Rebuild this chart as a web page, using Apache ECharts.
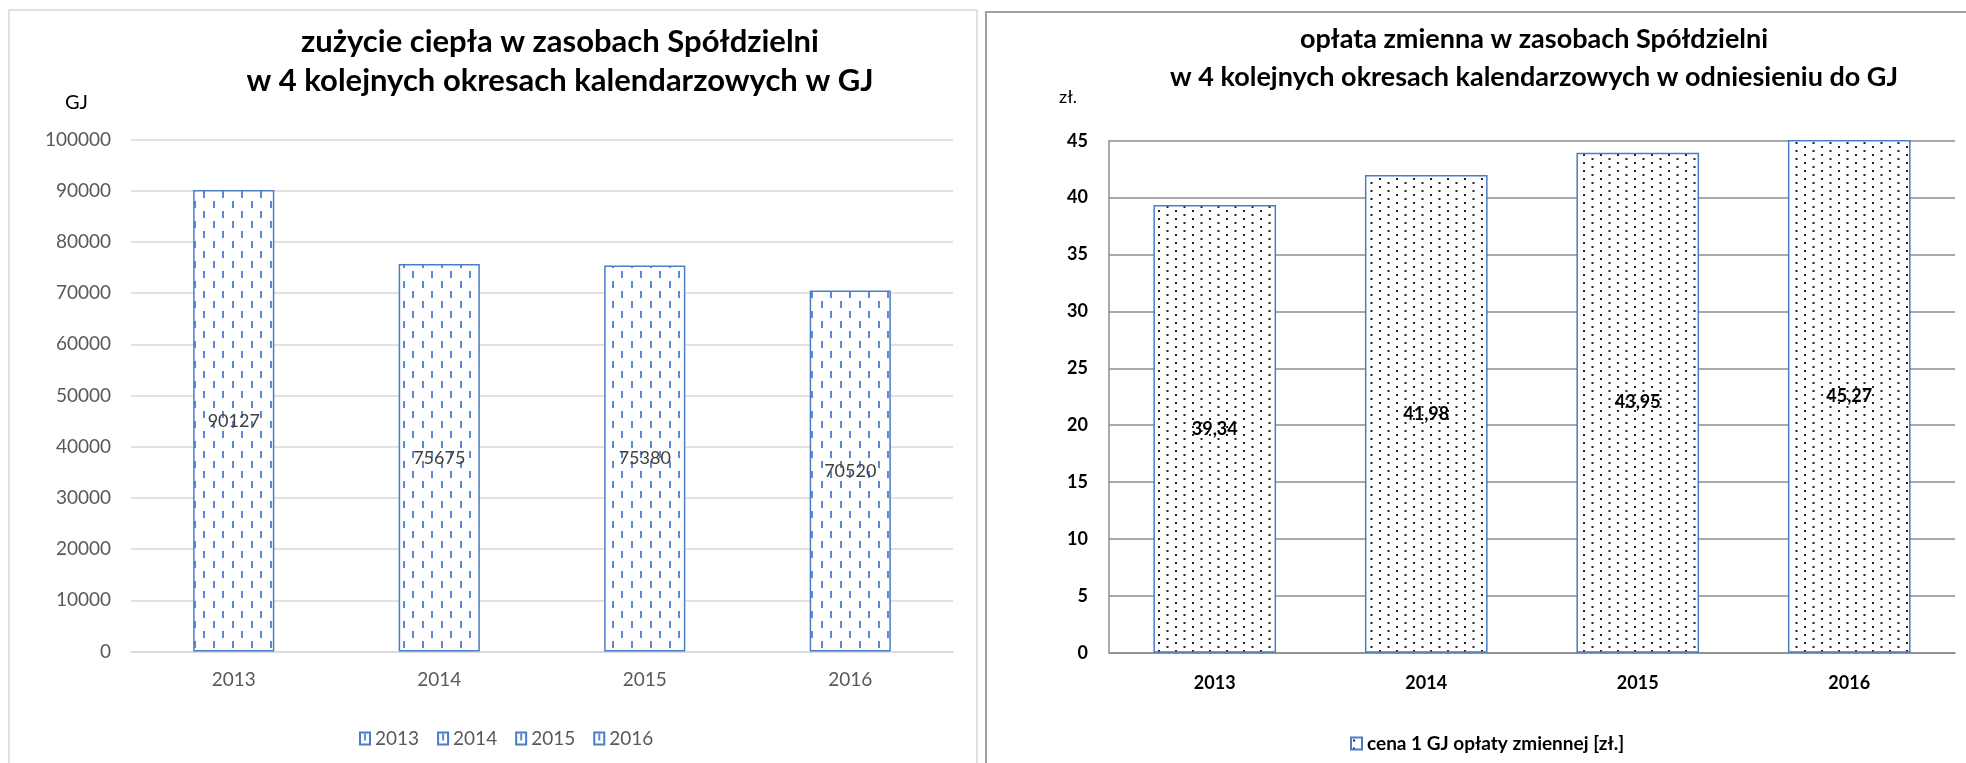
<!DOCTYPE html>
<html>
<head>
<meta charset="utf-8">
<title>zużycie ciepła / opłata zmienna</title>
<script src="https://cdn.jsdelivr.net/npm/echarts@6/dist/echarts.min.js"></script>
<style>
	html, body { margin: 0; padding: 0; background: #fff; }
	#chart { width: 1966px; height: 763px; }
</style>
</head>
<body>
<div id="chart"></div>
<script>
// dane
var years = ['2013', '2014', '2015', '2016'];
var heatValues = [90127, 75675, 75380, 70520];
var priceValues = [39.34, 41.98, 43.95, 45.27];
var heatAxis = { min: 0, max: 100000, interval: 10000 };
var priceAxis = { min: 0, max: 45, interval: 5 };
var priceSeriesName = 'cena 1 GJ opłaty zmiennej [zł.]';

// wzór: kreski pionowe
function dashPattern() {
	var c = document.createElement('canvas');
	c.width = 19;
	c.height = 20;
	var ctx = c.getContext('2d');
	ctx.fillStyle = '#ffffff';
	ctx.fillRect(0, 0, 19, 20);
	ctx.fillStyle = '#5b8bd2';
	ctx.fillRect(4, 1, 2, 7);
	ctx.fillRect(13, 11, 2, 7);
	return c;
}

// wzór: kropki
function dotPattern() {
	var c = document.createElement('canvas');
	c.width = 17;
	c.height = 16;
	var ctx = c.getContext('2d');
	ctx.fillStyle = '#ffffff';
	ctx.fillRect(0, 0, 17, 16);
	ctx.fillStyle = '#222222';
	ctx.fillRect(2, 2, 2, 2);
	ctx.fillRect(2, 10, 2, 2);
	ctx.fillRect(10.5, 6, 2, 2);
	ctx.fillRect(10.5, 14, 2, 2);
	return c;
}

var dashFill = { image: dashPattern(), repeat: 'repeat' };
var dotFill = { image: dotPattern(), repeat: 'repeat' };
var font = 'Lato, "Open Sans", sans-serif';

// lewy wykres - po jednej serii na rok
var heatSeries = years.map(function(y, i) {
	return {
		name : y,
		type : 'bar',
		stack : 'heat',
		xAxisIndex : 0,
		yAxisIndex : 0,
		barWidth : '39.5%',
		itemStyle : {
			color : dashFill,
			borderColor : '#4a7cc8',
			borderWidth : 1.5
		},
		label : {
			show : true,
			position : 'inside',
			color : '#404040',
			fontFamily : font,
			fontSize : 18
		},
		data : years.map(function(x, j) {
			return j === i ? heatValues[i] : '-';
		})
	};
});

var chart = echarts.init(document.getElementById('chart'));
chart.setOption({
	animation : false,
	textStyle : { fontFamily : font },
	graphic : [ {
		type : 'rect',
		shape : { x : 9, y : 10, width : 968, height : 800 },
		style : { fill : 'none', stroke : '#d9d9d9', lineWidth : 1.5 },
		z : -1
	}, {
		type : 'rect',
		shape : { x : 986, y : 12, width : 1100, height : 800 },
		style : { fill : 'none', stroke : '#a0a0a0', lineWidth : 2 },
		z : -1
	} ],
	title : [ {
		text : 'zużycie ciepła w zasobach Spółdzielni\nw 4 kolejnych okresach kalendarzowych w GJ',
		left : 555,
		top : 17,
		textAlign : 'center',
		textStyle : {
			fontFamily : font,
			fontWeight : 'bold',
			fontSize : 31,
			lineHeight : 39,
			color : '#000'
		}
	}, {
		text : 'opłata zmienna w zasobach Spółdzielni\nw 4 kolejnych okresach kalendarzowych w odniesieniu do GJ',
		left : 1529,
		top : 15,
		textAlign : 'center',
		textStyle : {
			fontFamily : font,
			fontWeight : 'bold',
			fontSize : 27,
			lineHeight : 38,
			color : '#000'
		}
	} ],
	legend : [ {
		data : years,
		left : 354,
		top : 724,
		itemWidth : 10,
		itemHeight : 12,
		itemGap : 18,
		icon : 'rect',
		textStyle : { fontFamily : font, fontSize : 19, color : '#595959' }
	}, {
		data : [ priceSeriesName ],
		left : 1345,
		top : 729,
		itemWidth : 11,
		itemHeight : 12,
		icon : 'rect',
		textStyle : { fontFamily : font, fontSize : 19, fontWeight : 'bold', color : '#000' }
	} ],
	grid : [ {
		left : 131,
		right : 1966 - 953,
		top : 139.5,
		bottom : 763 - 651.5
	}, {
		left : 1109,
		right : 11,
		top : 140.7,
		bottom : 763 - 652.7
	} ],
	xAxis : [ {
		type : 'category',
		gridIndex : 0,
		data : years,
		axisLine : { lineStyle : { color : '#d9d9d9', width : 1.5 } },
		axisTick : { show : false },
		axisLabel : { color : '#595959', fontFamily : font, fontSize : 19, margin : 19 }
	}, {
		type : 'category',
		gridIndex : 1,
		data : years,
		axisLine : { lineStyle : { color : '#8c8c8c', width : 1.5 } },
		axisTick : { show : false },
		axisLabel : { color : '#000', fontFamily : font, fontSize : 18, fontWeight : 'bold', margin : 21 }
	} ],
	yAxis : [ {
		type : 'value',
		gridIndex : 0,
		min : heatAxis.min,
		max : heatAxis.max,
		interval : heatAxis.interval,
		name : 'GJ',
		nameLocation : 'end',
		nameGap : 27,
		nameTextStyle : { align : 'right', padding : [ 0, 43, 0, 0 ], color : '#000', fontFamily : font, fontSize : 20 },
		axisLine : { show : false },
		axisTick : { show : false },
		splitLine : { lineStyle : { color : '#d9d9d9', width : 1.5 } },
		axisLabel : {
			color : '#595959',
			fontFamily : font,
			fontSize : 19,
			margin : 20,
			formatter : function(v) {
				return String(v);
			}
		}
	}, {
		type : 'value',
		gridIndex : 1,
		min : priceAxis.min,
		max : priceAxis.max,
		interval : priceAxis.interval,
		name : 'zł.',
		nameLocation : 'end',
		nameGap : 35,
		nameTextStyle : { align : 'right', padding : [ 0, 32, 0, 0 ], color : '#000', fontFamily : font, fontSize : 18 },
		axisLine : { show : true, lineStyle : { color : '#8c8c8c', width : 1.5 } },
		axisTick : { show : false },
		splitLine : { lineStyle : { color : '#8c8c8c', width : 1.5 } },
		axisLabel : { color : '#000', fontFamily : font, fontSize : 18, fontWeight : 'bold', margin : 21 }
	} ],
	series : heatSeries.concat([ {
		name : priceSeriesName,
		type : 'bar',
		xAxisIndex : 1,
		yAxisIndex : 1,
		barWidth : '58%',
		clip : true,
		itemStyle : {
			color : dotFill,
			borderColor : '#4a7cc8',
			borderWidth : 1.5
		},
		label : {
			show : true,
			position : 'inside',
			color : '#000',
			fontFamily : font,
			fontSize : 18,
			fontWeight : 'bold',
			formatter : function(p) {
				return p.value.toFixed(2).replace('.', ',');
			}
		},
		data : priceValues
	} ])
});
</script>
</body>
</html>
